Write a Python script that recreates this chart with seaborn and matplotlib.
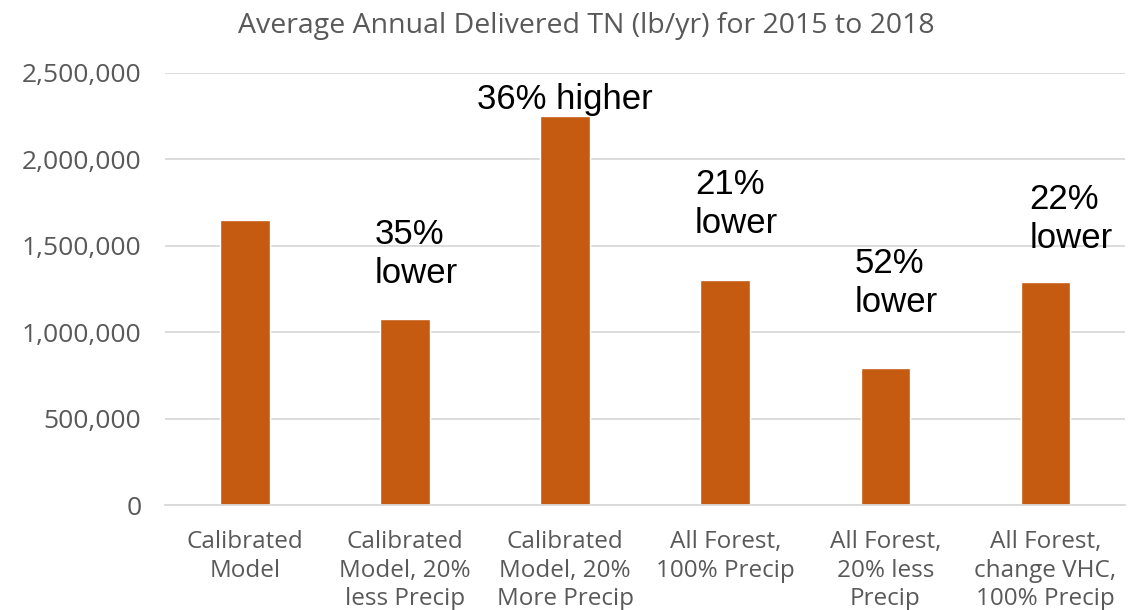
import pandas as pd
import seaborn as sns
import matplotlib.pyplot as plt

# Chart data
scenarios = ["Calibrated\nModel", "Calibrated\nModel, 20%\nless Precip",
             "Calibrated\nModel, 20%\nMore Precip", "All Forest,\n100% Precip",
             "All Forest,\n20% less\nPrecip", "All Forest,\nchange VHC,\n100% Precip"]
tn_load = [1650000, 1075000, 2250000, 1300000, 790000, 1290000]
notes = ["", "35%\nlower", "36% higher", "21%\nlower", "52%\nlower", "22%\nlower"]

df = pd.DataFrame({"scenario": scenarios, "tn": tn_load})

sns.set_theme(style="white")
plt.rcParams['font.family'] = ['Open Sans', 'DejaVu Sans']

fig = plt.figure(figsize=(11.38, 6.10), dpi=100)
ax = fig.add_axes([0.145, 0.172, 0.844, 0.709])

sns.barplot(data=df, x="scenario", y="tn", color="#C55A11", width=0.31,
            saturation=1, ax=ax)

ax.set_xlim(-0.5, 5.5)
ax.set_ylim(0, 2500000)
ax.set_yticks(range(0, 2500001, 500000))
ax.yaxis.set_major_formatter(plt.FuncFormatter(lambda v, p: f"{int(v):,}"))
ax.grid(axis="y", color="#d9d9d9", linewidth=1.3)
ax.set_axisbelow(True)
for s in ["top", "right", "left"]:
    ax.spines[s].set_visible(False)
ax.spines["bottom"].set_color("#d9d9d9")
ax.spines["bottom"].set_linewidth(1.3)
ax.tick_params(axis="y", length=0, pad=17, labelsize=19, labelcolor="#595959")
ax.tick_params(axis="x", length=0, pad=18, labelsize=17.5, labelcolor="#595959")
for lab in ax.get_xticklabels():
    lab.set_linespacing(1.25)
ax.set_xlabel("")
ax.set_ylabel("")

# percentage change notes
note_pos = {1: (-0.19, 1657000), 3: (-0.19, 1946000), 4: (-0.19, 1490000), 5: (-0.1, 1859000)}
for i, txt in enumerate(notes):
    if not txt:
        continue
    if i == 2:
        ax.text(i, 2437000, txt, ha="center", va="top", fontsize=25,
                family="Liberation Sans", color="black")
    else:
        dx, y = note_pos[i]
        ax.text(i + dx, y, txt, ha="left", va="top", fontsize=25,
                family="Liberation Sans", color="black", linespacing=1.2)

fig.text(0.515, 0.957, "Average Annual Delivered TN (lb/yr) for 2015 to 2018",
         ha="center", va="center", fontsize=20.5, color="#595959")

fig.savefig("out.png", dpi=100)
